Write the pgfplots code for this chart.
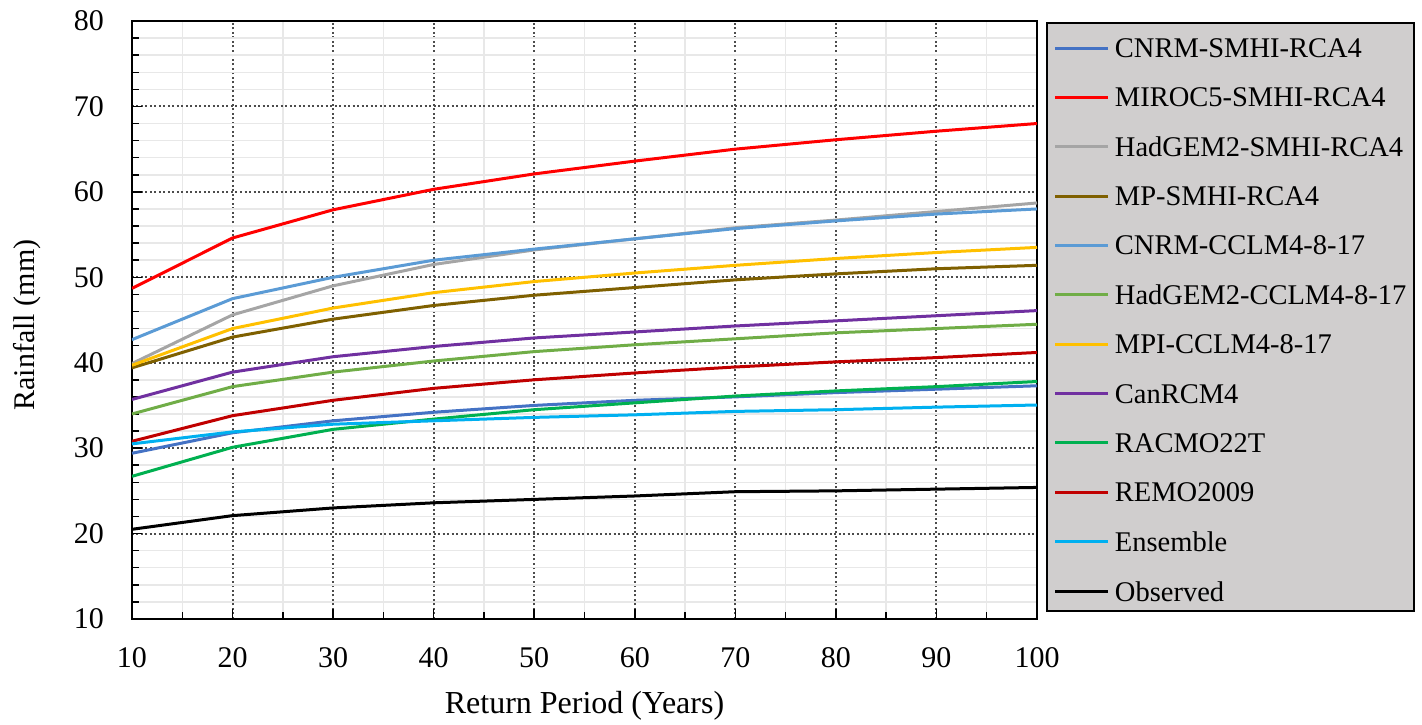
\documentclass[border=0pt]{standalone}
\usepackage{fontspec}
\setmainfont{Liberation Serif}
\usepackage{pgfplots}
\pgfplotsset{compat=1.18}
\usepackage{pgfplotstable}
\definecolor{cCS}{HTML}{4472C4}
\definecolor{cMS}{HTML}{FF0000}
\definecolor{cHS}{HTML}{A5A5A5}
\definecolor{cMP}{HTML}{7F6000}
\definecolor{cCC}{HTML}{5B9BD5}
\definecolor{cHC}{HTML}{70AD47}
\definecolor{cMC}{HTML}{FFC000}
\definecolor{cCan}{HTML}{7030A0}
\definecolor{cRac}{HTML}{00B050}
\definecolor{cRemo}{HTML}{C00000}
\definecolor{cEns}{HTML}{00B0F0}
\definecolor{legfill}{RGB}{208,206,206}

\pgfplotstableread{
x   cs   ms   hs   mp   cc   hc   mc   can  rac  remo ens   obs
10  29.4 48.7 39.9 39.4 42.7 34.0 39.7 35.7 26.7 30.8 30.5  20.5
20  31.8 54.6 45.6 43.0 47.5 37.2 44.0 38.9 30.1 33.8 31.9  22.1
30  33.2 57.9 49.0 45.1 50.0 38.9 46.4 40.7 32.2 35.6 32.8  23.0
40  34.2 60.3 51.5 46.7 52.0 40.2 48.2 41.9 33.4 37.0 33.2  23.6
50  35.0 62.1 53.2 47.9 53.3 41.3 49.5 42.9 34.5 38.0 33.6  24.0
60  35.6 63.6 54.5 48.8 54.5 42.1 50.5 43.6 35.3 38.8 33.9  24.4
70  36.0 65.0 55.8 49.7 55.7 42.8 51.4 44.3 36.1 39.5 34.3  24.9
80  36.5 66.1 56.7 50.4 56.6 43.5 52.2 44.9 36.7 40.1 34.5  25.0
90  36.9 67.1 57.7 51.0 57.4 44.0 52.9 45.5 37.2 40.6 34.8  25.2
100 37.3 68.0 58.7 51.4 58.0 44.5 53.5 46.1 37.8 41.2 35.05 25.4
}\data

\begin{document}
\begin{tikzpicture}
\begin{axis}[
  scale only axis,
  width=905pt, height=598pt,
  xmin=10, xmax=100, ymin=10, ymax=80,
  xtick={10,20,...,100}, ytick={10,20,...,80},
  minor x tick num=1, minor y tick num=4,
  xtick pos=left, ytick pos=left,
  tick align=inside,
  major tick length=10pt, minor tick length=7pt,
  every tick/.style={black, line width=1.5pt},
  axis line style={black, line width=2.5pt},
  grid=both,
  major grid style={line width=2pt, color=black!70, dash pattern=on 2pt off 2.5pt},
  minor grid style={line width=1.5pt, color=black!9},
  /pgf/number format/assume math mode=true,
  tick label style={font=\fontsize{30}{36}\selectfont},
  xticklabel style={inner sep=0pt, yshift=-28pt},
  yticklabel style={inner sep=0pt, xshift=-28pt},
  xlabel={Return Period (Years)},
  ylabel={Rainfall (mm)},
  xlabel style={font=\fontsize{32}{38}\selectfont, at={(axis description cs:0.5,0)}, anchor=base, yshift=-94pt},
  ylabel style={font=\fontsize{30}{36}\selectfont, at={(axis description cs:-0.1072,0.4916)}, anchor=base, rotate=0},
  every axis plot/.append style={line width=3pt, no markers},
  legend image code/.code={\draw[#1, line width=3pt] (0pt,0pt) -- (53pt,0pt); \path[draw=none] (0pt,0pt) -- (0pt,16pt);},
  legend style={
    at={(1.0099,0.999)}, anchor=north west,
    fill=legfill, draw=black, line width=2pt,
    inner xsep=7pt, inner ysep=9.5pt,
    row sep=23.8pt,
    font=\fontsize{28.5}{34}\selectfont,
    nodes={inner sep=0pt, text depth=0pt},
    cells={anchor=west},
    /tikz/every odd column/.append style={column sep=5pt},
  },
]
\addplot[cCS] table[x=x,y=cs]{\data};
\addlegendentry{\makebox[292pt][l]{CNRM-SMHI-RCA4}}
\addplot[cMS] table[x=x,y=ms]{\data};
\addlegendentry{MIROC5-SMHI-RCA4}
\addplot[cHS] table[x=x,y=hs]{\data};
\addlegendentry{HadGEM2-SMHI-RCA4}
\addplot[cMP] table[x=x,y=mp]{\data};
\addlegendentry{MP-SMHI-RCA4}
\addplot[cCC] table[x=x,y=cc]{\data};
\addlegendentry{CNRM-CCLM4-8-17}
\addplot[cHC] table[x=x,y=hc]{\data};
\addlegendentry{HadGEM2-CCLM4-8-17}
\addplot[cMC] table[x=x,y=mc]{\data};
\addlegendentry{MPI-CCLM4-8-17}
\addplot[cCan] table[x=x,y=can]{\data};
\addlegendentry{CanRCM4}
\addplot[cRac] table[x=x,y=rac]{\data};
\addlegendentry{RACMO22T}
\addplot[cRemo] table[x=x,y=remo]{\data};
\addlegendentry{REMO2009}
\addplot[cEns] table[x=x,y=ens]{\data};
\addlegendentry{Ensemble}
\addplot[black] table[x=x,y=obs]{\data};
\addlegendentry{\raisebox{0pt}[\height][6pt]{Observed}}
\end{axis}
\path (-132pt,-106pt) rectangle (1290pt,619pt);
\end{tikzpicture}
\end{document}
